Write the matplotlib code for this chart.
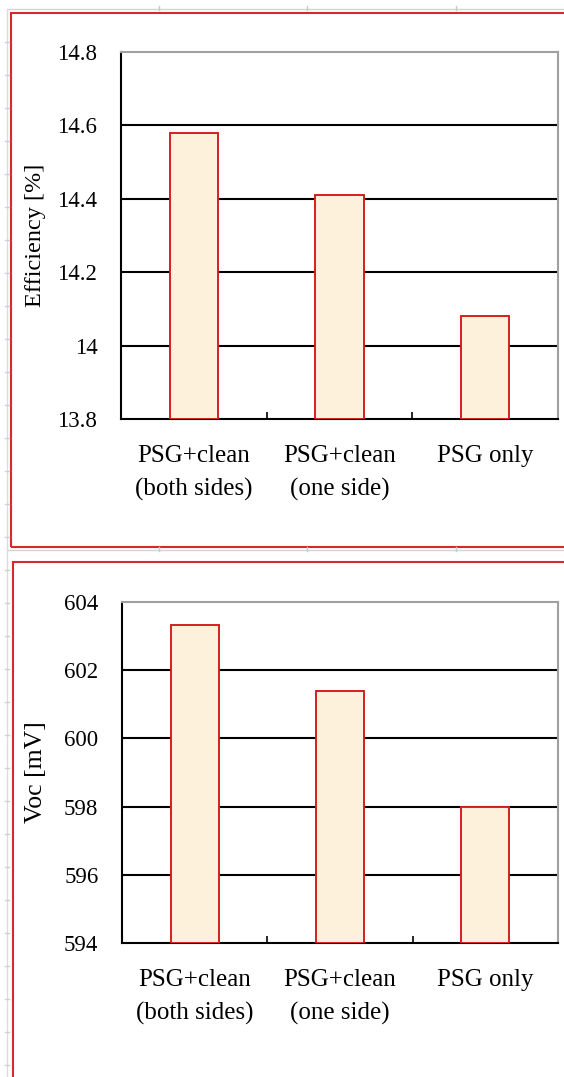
import matplotlib
matplotlib.use("Agg")
import matplotlib.pyplot as plt
from matplotlib.patches import Rectangle
from matplotlib.lines import Line2D

categories = ["PSG+clean\n(both sides)", "PSG+clean\n(one side)", "PSG only"]
efficiency = [14.58, 14.41, 14.08]
voc = [603.33, 601.38, 598.0]
eff_ticks = [13.8, 14.0, 14.2, 14.4, 14.6, 14.8]
eff_ticklabels = ["13.8", "14", "14.2", "14.4", "14.6", "14.8"]
voc_ticks = [594, 596, 598, 600, 602, 604]

W, H = 564, 1077
plt.rcParams['font.family'] = ['Liberation Serif', 'DejaVu Serif']
fig = plt.figure(figsize=(W / 100, H / 100), dpi=100)

def fx(x):
    return x / W

def fy(y):
    return 1 - y / H

def rect(l, t, r, b):
    return [fx(l), fy(b), fx(r) - fx(l), fy(t) - fy(b)]

# spreadsheet-like faint guide lines
for yline in [9, 550]:
    fig.add_artist(Line2D([fx(8), fx(564)], [fy(yline), fy(yline)], color="#d4d4d4", lw=1))
    for xx in [159, 307, 456]:
        fig.add_artist(Line2D([fx(xx), fx(xx)], [fy(yline - 3), fy(yline + 1)], color="#c8c8c8", lw=1))
fig.add_artist(Line2D([fx(7), fx(7)], [fy(9), fy(1077)], color="#dcdcdc", lw=1))
for yy in range(42, 1077, 33):
    fig.add_artist(Line2D([fx(5), fx(9)], [fy(yy), fy(yy)], color="#d0d0d0", lw=1))

# red panel borders
fig.add_artist(Rectangle((fx(11), fy(547)), fx(600) - fx(11), fy(13) - fy(547),
                         fill=False, edgecolor="#d42a2a", lw=1.5, transform=fig.transFigure))
fig.add_artist(Rectangle((fx(12.5), fy(1100)), fx(600) - fx(12.5), fy(562) - fy(1100),
                         fill=False, edgecolor="#d42a2a", lw=1.5, transform=fig.transFigure))

def panel(ax, vals, ylim, ticks, ticklabels, ylabel, ylabel_size):
    x = list(range(len(categories)))
    ax.bar(x, [v - ylim[0] for v in vals], bottom=ylim[0], width=0.33,
           color="#fdf1dc", edgecolor="#d42020", linewidth=1.4, zorder=3)
    ax.set_xlim(-0.5, 2.5)
    ax.set_ylim(*ylim)
    ax.set_yticks(ticks)
    ax.set_yticklabels(ticklabels)
    for t in ticks[1:-1]:
        ax.axhline(t, color="black", lw=1.5, zorder=1)
    ax.set_xticks(x)
    ax.set_xticklabels(categories, fontsize=18, linespacing=1.58)
    ax.set_xticks([0.5, 1.5], minor=True)
    ax.tick_params(axis="x", which="major", length=0, pad=19)
    ax.tick_params(axis="x", which="minor", direction="in", length=5, width=1.2, color="black")
    ax.tick_params(axis="y", length=0, pad=17, labelsize=16.5)
    ax.spines["left"].set_color("black")
    ax.spines["bottom"].set_color("black")
    ax.spines["left"].set_linewidth(1.5)
    ax.spines["bottom"].set_linewidth(1.5)
    ax.spines["top"].set_color("#a0a0a0")
    ax.spines["right"].set_color("#a0a0a0")
    ax.spines["top"].set_linewidth(1.5)
    ax.spines["right"].set_linewidth(1.5)
    ax.set_ylabel(ylabel, fontsize=ylabel_size)
    ax.yaxis.set_label_coords(-(121 - 46) / 437, 0.5)

ax1 = fig.add_axes(rect(121, 52, 558, 419))
panel(ax1, efficiency, (13.8, 14.8), eff_ticks, eff_ticklabels, "Efficiency [%]", 17.5)
ax2 = fig.add_axes(rect(122, 602, 558, 943))
panel(ax2, voc, (594, 604), voc_ticks, [str(v) for v in voc_ticks], "Voc [mV]", 18.5)

fig.savefig("out.png", dpi=100)
